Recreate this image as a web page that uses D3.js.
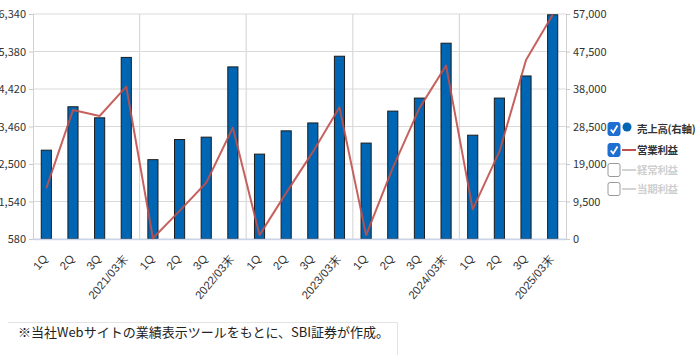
<!DOCTYPE html>
<html><head><meta charset="utf-8">
<script src="https://cdn.jsdelivr.net/npm/d3@7"></script>
<style>
body{margin:0;background:#fff;}
svg{display:block;font-family:"Noto Sans CJK JP","Noto Sans",sans-serif;}
</style></head>
<body><svg id="c" width="700" height="355"></svg>
<script>
const categories = ["1Q","2Q","3Q","2021/03末","1Q","2Q","3Q","2022/03末","1Q","2Q","3Q","2023/03末","1Q","2Q","3Q","2024/03末","1Q","2Q","3Q","2025/03末"];
const sales = [22500,33500,30700,46000,20100,25200,25800,43600,21500,27400,29400,46300,24300,32400,35700,49600,26300,35700,41300,56800];
const operatingProfit = [1878,3880,3730,4480,600,1300,2020,3430,680,1760,2810,3950,680,2400,3930,5020,1340,2815,5160,6320];
const leftTicks = [580,1540,2500,3460,4420,5380,6340];
const rightTicks = [0,9500,19000,28500,38000,47500,57000];
const legendItems = ["売上高(右軸)","営業利益","経常利益","当期利益"];
const note = "※当社Webサイトの業績表示ツールをもとに、SBI証券が作成。";

const svg = d3.select("#c");
const L = 33, R = 566, T = 14, B = 239;
const idx = categories.map((d,i)=>i);
const x = d3.scaleBand().domain(idx).range([L,R]).paddingInner(0.62).paddingOuter(0.31);
const yL = d3.scaleLinear().domain([580,6340]).range([B,T]);
const yR = d3.scaleLinear().domain([0,57000]).range([B,T]);
const step = (R-L)/categories.length;

// horizontal gridlines
svg.append("g").selectAll("line").data(leftTicks).join("line")
  .attr("x1",L).attr("x2",R).attr("y1",d=>yL(d)).attr("y2",d=>yL(d))
  .attr("stroke","#d9d9d9").attr("stroke-width",1.2);
// vertical year separators
svg.append("g").selectAll("line").data([4,8,12,16]).join("line")
  .attr("x1",d=>L+d*step).attr("x2",d=>L+d*step).attr("y1",T).attr("y2",B)
  .attr("stroke","#d9d9d9").attr("stroke-width",1.2);

// left axis
const gl = svg.append("g").attr("transform",`translate(${L},0)`)
  .call(d3.axisLeft(yL).tickValues(leftTicks).tickFormat(d3.format(",")).tickSize(4).tickPadding(3));
// right axis
const gr = svg.append("g").attr("transform",`translate(${R},0)`)
  .call(d3.axisRight(yR).tickValues(rightTicks).tickFormat(d3.format(",")).tickSize(4).tickPadding(3));
[gl,gr].forEach(g=>{
  g.select(".domain").attr("stroke","#d0d0d0");
  g.selectAll(".tick line").attr("stroke","#c8c8c8");
  g.selectAll("text").attr("fill","#333").style("font-size","11px").style("font-family","'Noto Sans CJK JP',sans-serif");
});

// bars
svg.append("g").selectAll("rect").data(sales).join("rect")
  .attr("x",(d,i)=>x(i)).attr("width",x.bandwidth())
  .attr("y",d=>yR(d)).attr("height",d=>B-yR(d))
  .attr("fill","#0066b3").attr("stroke","#1c1c1c").attr("stroke-width",1);

// bottom axis
const gb = svg.append("g").attr("transform",`translate(0,${B})`)
  .call(d3.axisBottom(x).tickSize(0).tickFormat(i=>categories[i]));
gb.select(".domain").attr("stroke","#c9d5ea").attr("stroke-width",1.5);
gb.selectAll("text").attr("fill","#333").style("font-size","11.5px")
  .attr("text-anchor","end").attr("dy",0)
  .attr("transform","translate(2,20) rotate(-50)")
  .attr("y",0).attr("x",0);

// line
const line = d3.line().x((d,i)=>x(i)+x.bandwidth()/2).y(d=>yL(d));
svg.append("path").datum(operatingProfit).attr("d",line)
  .attr("fill","none").attr("stroke","#c0504d").attr("stroke-width",2).attr("stroke-opacity",0.9)
  .attr("stroke-linejoin","round");

// legend
const lg = svg.append("g");
const rowY = [129,150,170,189];
legendItems.forEach((t,i)=>{
  const g = lg.append("g").attr("transform",`translate(608,${rowY[i]})`);
  const on = i<2;
  g.append("rect").attr("x",0).attr("y",-6.5).attr("width",12).attr("height",13).attr("rx",2)
    .attr("fill",on?"#1e6fd0":"#fff").attr("stroke",on?"#1e6fd0":"#9a9a9a").attr("stroke-width",1);
  if(on){
    g.append("path").attr("d","M2.8,0.5 L5.2,3.5 L9.5,-3.5").attr("fill","none")
      .attr("stroke","#fff").attr("stroke-width",1.8);
  }
  if(i===0){
    g.append("circle").attr("cx",19).attr("cy",-2).attr("r",4.5).attr("fill","#0066b3");
  } else {
    g.append("line").attr("x1",14).attr("x2",28).attr("y1",0).attr("y2",0)
      .attr("stroke",i===1?"#c0504d":"#d3d3d3").attr("stroke-width",2);
  }
  g.append("text").attr("x",29).attr("y",0).attr("dy","0.35em")
    .style("font-size","10.5px").style("font-weight","bold").style("letter-spacing","-0.3px")
    .attr("fill",on?"#333":"#cfcfcf").text(t);
});

// note box
svg.append("path").attr("d","M8,322.5 H397.5 V355").attr("fill","none").attr("stroke","#e3e3e3");
svg.append("text").attr("x",18).attr("y",332).attr("dy","0.35em")
  .style("font-size","13px").attr("fill","#222").text(note);
</script></body></html>
